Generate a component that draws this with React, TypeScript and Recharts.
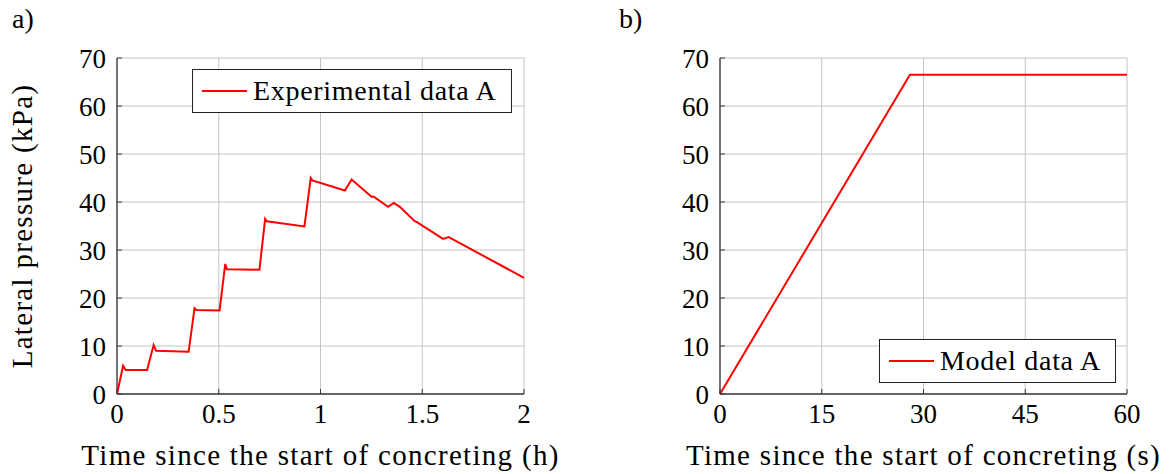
import { LineChart, Line, XAxis, YAxis, CartesianGrid, Legend } from "recharts";

// a) experimental pressure, time in hours
const expHours = [
  0, 0.03, 0.042, 0.148, 0.18, 0.192, 0.352, 0.381, 0.39, 0.504, 0.532, 0.54,
  0.7, 0.728, 0.736, 0.921, 0.952, 0.96, 1.12, 1.153, 1.251, 1.262, 1.332,
  1.36, 1.39, 1.463, 1.474, 1.602, 1.63, 2.0,
];
const expPressure = [
  0, 5.9, 5.0, 5.0, 10.2, 9.0, 8.8, 17.9, 17.5, 17.4, 27.1, 26.0, 25.9, 36.5,
  36.0, 34.9, 45.0, 44.5, 42.4, 44.7, 41.1, 41.1, 39.0, 39.8, 39.0, 36.0, 35.8,
  32.3, 32.7, 24.2,
];

// b) model pressure, time in seconds
const modelSeconds = [0, 28, 60];
const modelPressure = [0, 66.5, 66.5];

const pressureTicks = [0, 10, 20, 30, 40, 50, 60, 70];
const hourTicks = [0, 0.5, 1, 1.5, 2];
const secondTicks = [0, 15, 30, 45, 60];

const FONT = "Liberation Serif";
const AXIS = "#3a3a3a";
const GRID = "#c4c4c4";
const RED = "#ff0000";

const expData = expHours.map((t, i) => ({ t, p: expPressure[i] }));
const modelData = modelSeconds.map((t, i) => ({ t, p: modelPressure[i] }));

const tickStyle = { fontFamily: FONT, fontSize: 27, fill: "#000" };
const labelStyle = { fontFamily: FONT, fontSize: 29, letterSpacing: 1.3, fill: "#000" };

function LegendBox({ payload, width }: any) {
  const item = payload && payload[0];
  if (!item) return null;
  return (
    <div
      style={{
        boxSizing: "border-box",
        width,
        height: 44,
        border: "1.3px solid #222",
        background: "#fff",
        display: "flex",
        alignItems: "center",
        fontFamily: FONT,
        fontSize: 28,
        letterSpacing: 0.7,
        color: "#000",
      }}
    >
      <div
        style={{ width: 45, height: 0, borderTop: `2px solid ${item.color}`, marginLeft: 9, marginRight: 6 }}
      />
      <span>{item.value}</span>
    </div>
  );
}

interface PanelProps {
  data: Array<{ t: number; p: number }>;
  xTicks: number[];
  xLabel: string;
  name: string;
  yLabel?: string;
  legendPos: { left: number; top: number; width: number };
}

function Panel({ data, xTicks, xLabel, name, yLabel, legendPos }: PanelProps) {
  const xMax = xTicks[xTicks.length - 1];
  return (
    <LineChart
      width={560}
      height={474}
      data={data}
      margin={{ top: 58, right: 36, bottom: 0, left: 0 }}
    >
      <CartesianGrid stroke={GRID} strokeWidth={1} />
      <XAxis
        dataKey="t"
        type="number"
        domain={[0, xMax]}
        ticks={xTicks}
        height={80}
        tickSize={-5}
        tickMargin={15}
        tick={tickStyle}
        axisLine={{ stroke: AXIS, strokeWidth: 1.3 }}
        tickLine={{ stroke: AXIS }}
        label={{ value: xLabel, position: "insideBottom", offset: 9, style: labelStyle }}
      />
      <XAxis
        xAxisId="top"
        orientation="top"
        type="number"
        domain={[0, xMax]}
        ticks={xTicks}
        height={0}
        tick={false}
        tickSize={-5}
        axisLine={{ stroke: AXIS, strokeWidth: 1.3 }}
        tickLine={{ stroke: AXIS }}
      />
      <YAxis
        type="number"
        domain={[0, 70]}
        ticks={pressureTicks}
        width={117}
        tickSize={-5}
        tickMargin={16}
        tick={tickStyle}
        axisLine={{ stroke: AXIS, strokeWidth: 1.3 }}
        tickLine={{ stroke: AXIS }}
        label={
          yLabel
            ? {
                value: yLabel,
                angle: -90,
                position: "insideLeft",
                offset: 22,
                style: { ...labelStyle, textAnchor: "middle" },
              }
            : undefined
        }
      />
      <YAxis
        yAxisId="right"
        orientation="right"
        type="number"
        domain={[0, 70]}
        ticks={pressureTicks}
        width={0}
        tick={false}
        tickSize={-5}
        axisLine={{ stroke: AXIS, strokeWidth: 1.3 }}
        tickLine={{ stroke: AXIS }}
      />
      <Legend
        layout="vertical"
        align="center"
        verticalAlign="middle"
        content={(props: any) => <LegendBox {...props} width={legendPos.width} />}
        wrapperStyle={{ left: legendPos.left, top: legendPos.top, width: legendPos.width, height: 44 }}
      />
      <Line
        type="linear"
        dataKey="p"
        name={name}
        stroke={RED}
        strokeWidth={2}
        dot={false}
        isAnimationActive={false}
      />
    </LineChart>
  );
}

const panelTag = { position: "absolute" as const, fontFamily: FONT, fontSize: 28, color: "#000" };

export default function App() {
  return (
    <div style={{ position: "absolute", left: 0, top: 0, width: 1171, height: 474, background: "#fff" }}>
      <div style={{ ...panelTag, left: 12, top: 3 }}>a)</div>
      <div style={{ ...panelTag, left: 619, top: 3 }}>b)</div>
      <div style={{ position: "absolute", left: 0, top: 0 }}>
        <Panel
          data={expData}
          xTicks={hourTicks}
          xLabel="Time since the start of concreting (h)"
          yLabel="Lateral pressure (kPa)"
          name="Experimental data A"
          legendPos={{ left: 192, top: 69, width: 320 }}
        />
      </div>
      <div style={{ position: "absolute", left: 603, top: 0 }}>
        <Panel
          data={modelData}
          xTicks={secondTicks}
          xLabel="Time since the start of concreting (s)"
          name="Model data A"
          legendPos={{ left: 276, top: 339, width: 237 }}
        />
      </div>
    </div>
  );
}
